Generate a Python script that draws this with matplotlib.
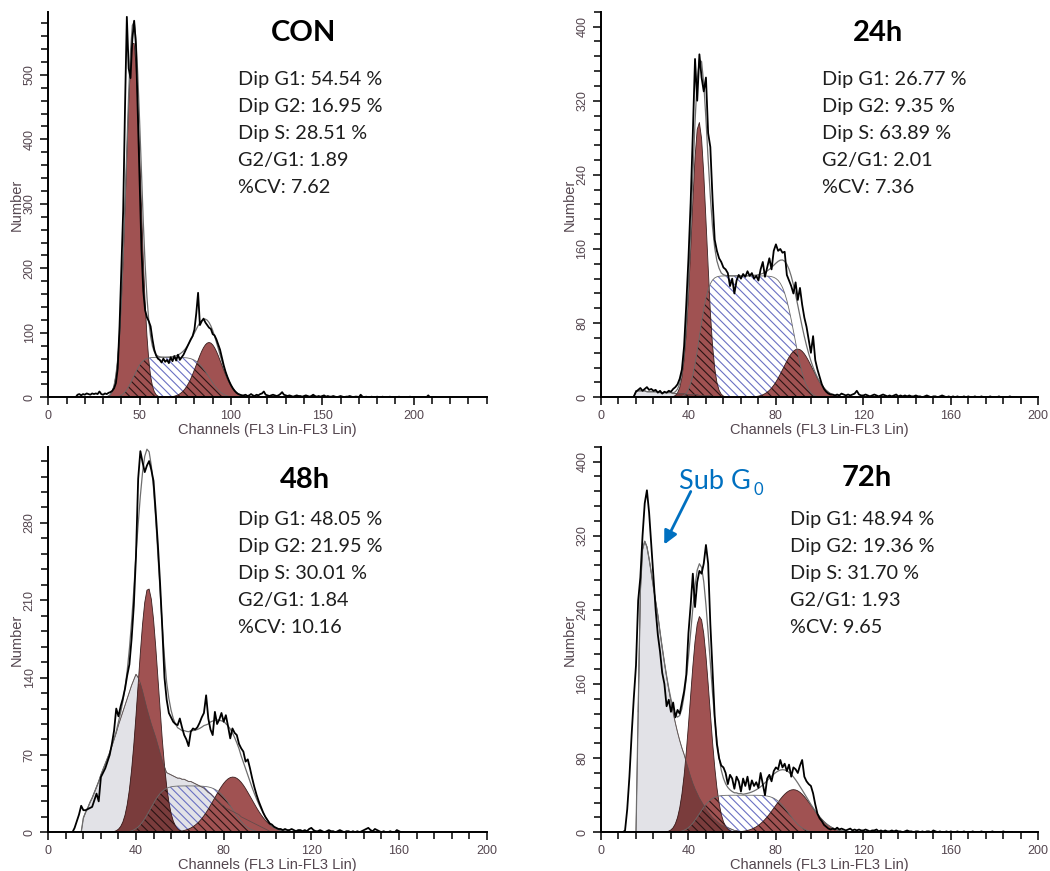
import math
import numpy as np
import matplotlib
matplotlib.use("Agg")
import matplotlib.pyplot as plt
from matplotlib.ticker import MultipleLocator

# ---- histogram counts, one value per channel starting at *_start ----
con_start = 15
con_counts = [0, 4, 5, 3, 5, 4, 6, 5, 4, 6, 5, 6, 5, 9, 5, 4, 6, 5, 7, 8,
              10, 14, 22, 45, 110, 200, 290, 450, 590, 510, 495, 555, 584, 545, 440, 330,
              230, 165, 135, 124, 118, 110, 90, 74, 65, 60,
              58, 54, 60, 55, 58, 53, 62, 56, 64, 57, 66, 58, 62,
              66, 72, 78, 84, 90, 95, 105, 130, 162,
              112, 118, 122, 116, 112, 108, 106, 98, 96, 90,
              82, 74, 62, 50, 40, 32, 25, 19, 14, 10, 7, 5, 4, 3,
              3, 4, 2, 3, 5, 3, 2, 4, 3, 5, 6, 9, 4, 3, 2, 3, 4, 3, 2, 3, 5, 8, 4, 3,
              2, 3, 2, 1, 2, 3, 2, 2, 1, 2, 3, 2, 1, 2, 4, 2, 1, 2, 1, 2, 3, 1, 2, 1, 1, 2, 1, 0, 1, 2,
              1, 0, 1, 1, 2, 1, 0, 1, 1, 0, 4, 1, 0, 1, 0, 0, 1, 0, 0, 1, 0, 0, 1, 0, 0, 0,
              1, 0, 0, 0, 0, 1, 0, 0, 0, 0, 0, 1, 0, 0, 0, 0, 0, 0, 0, 0, 0, 3, 0, 0, 0, 0]

h24_start = 15
h24_counts = [1, 6, 8, 10, 7, 9, 11, 8, 9, 7, 8, 5, 7, 4, 6, 5, 7, 6, 9, 11,
              14, 20, 30, 55, 100, 150, 210, 285, 365, 320, 370, 345, 330, 345, 285, 270,
              215, 170, 158, 150, 146, 140, 138, 134, 120, 128, 112, 126, 132, 128, 133,
              130, 136, 131, 134, 128, 131, 126, 138, 146, 130, 140, 150, 138, 158, 165,
              158, 160, 156, 157, 132, 126, 120, 112, 124, 105, 118, 100, 86, 76, 62, 48,
              66, 40, 30, 22, 14, 9, 6, 4, 3,
              3, 2, 3, 2, 4, 3, 2, 3, 2, 3, 4, 7, 3, 2, 2, 3, 2, 1, 2, 3, 2, 1, 2, 3, 2,
              1, 2, 1, 2, 3, 1, 2, 1, 2, 1, 2, 1, 1, 2, 1, 1, 0, 1, 2, 1, 0, 1, 1, 0, 1,
              2, 1, 0, 1, 0, 1, 0, 1, 0, 0, 1, 0, 1, 0, 0, 1, 0, 0, 1, 0, 0, 0, 1, 0, 0,
              0, 1, 0, 0, 0, 0, 1, 0, 0, 0]

h48_start = 11
h48_counts = [0, 4, 10, 16, 24, 20, 20, 21, 22, 23, 29, 35, 28, 50, 54, 58, 64, 70, 80,
              92, 112, 105, 114, 121, 130, 142, 152, 175, 205, 250, 320, 345, 335, 326,
              332, 336, 328, 318, 290, 260, 225, 185, 140, 120, 108, 104, 100, 98, 97,
              103, 95, 88, 84, 78, 91, 94, 93, 95, 99, 104, 108, 124, 103, 93, 88, 109,
              98, 102, 108, 100, 106, 96, 85, 94, 90, 88, 80, 76, 73, 64, 66, 58, 49, 41,
              34, 28, 23, 18, 14, 11, 8, 7, 5, 4, 3,
              3, 2, 3, 2, 2, 3, 2, 1, 2, 2, 1, 2, 1, 3, 4, 2, 1, 1, 2, 1, 0, 1, 2, 1, 1,
              0, 1, 2, 1, 0, 1, 1, 0, 1, 0, 1, 0, 1, 2, 3, 4, 2, 1, 3, 2, 1, 0, 1, 0, 0,
              1, 0, 0, 2, 1, 0, 0]

h72_start = 10
h72_counts = [0, 2, 25, 60, 105, 145, 180, 250, 275, 320, 355, 369, 345, 310, 275, 240,
              213, 195, 172, 160, 136, 143, 130, 140, 124, 132, 128, 140, 152, 170, 215,
              245, 279, 243, 270, 282, 279, 290, 310, 290, 225, 175, 125, 95, 80, 72, 70,
              64, 52, 62, 58, 47, 60, 55, 44, 58, 50, 60, 46, 56, 50, 54, 48, 64, 52, 40,
              58, 62, 55, 66, 70, 68, 78, 70, 74, 66, 73, 60, 70, 68, 64, 72, 78, 60, 55,
              52, 50, 42, 30, 20, 15, 12, 8, 6, 4, 3,
              4, 3, 5, 3, 4, 3, 2, 3, 4, 2, 3, 2, 3, 2, 2, 3, 2, 1, 2, 2, 3, 1, 2, 1, 2,
              1, 1, 2, 1, 2, 1, 1, 0, 1, 2, 1, 1, 0, 1, 1, 0, 1, 0, 1, 1, 0, 2, 1, 0, 1,
              0, 0, 1, 0, 1, 0, 0, 1, 0, 0, 1, 0, 0, 0, 1, 0, 0, 0, 1, 0, 0, 0, 0, 1, 0,
              0, 0, 0, 1, 0, 0, 0, 0]

# ---- debris (sub G0) component, one value per channel ----
h24_debris_start = 16
h24_debris = [7, 7, 7, 7, 7, 6, 6, 6, 6, 6, 6, 5, 5, 5, 5, 5, 5, 4, 4, 4, 4, 4, 4,
              3, 3, 3, 3, 3, 3, 2, 2, 2, 2, 2, 2, 1, 1, 1, 1, 0]

h48_debris_start = 15
h48_debris = [0, 13, 18, 22, 27, 31, 36, 41, 46, 52, 57, 62, 67, 72, 78, 84, 90, 97,
              103, 109, 115, 121, 127, 133, 138, 143, 140, 135, 128, 120, 112, 105, 98,
              92, 86, 79, 72, 65, 59, 54, 53, 52, 51, 50, 49, 49, 48, 48, 47, 46, 46, 45,
              44, 43, 42, 41, 40, 38, 36, 35, 33, 31, 29, 27, 25, 24, 22, 21, 20, 19, 18,
              17, 16, 14, 13, 12, 11, 10, 9, 8, 7, 6, 5, 4, 3, 2, 1, 0]

h72_debris_start = 16
h72_debris = [0, 130, 260, 305, 314, 308, 295, 280, 264, 249, 234, 216, 199, 183, 168,
              154, 141, 129, 118, 108, 99, 91, 84, 76, 68, 60, 53, 47, 42, 37, 33, 29, 25,
              22, 19, 16, 14, 12, 10, 8, 7, 6, 5, 4, 3, 2, 2, 1, 1, 0]

# ---- fitted peaks: (mean channel, height, sd) and S phase (height, left, left sd, right, right sd)
con_g1, con_g2, con_s = (46.5, 553, 4.0), (88.0, 85, 6.8), (62, 46.5, 4.0, 88.0, 5.5)
h24_g1, h24_g2, h24_s = (44.8, 297, 3.4), (90.0, 52, 6.6), (131, 45.0, 3.3, 88.5, 4.2)
h48_g1, h48_g2, h48_s = (45.6, 221, 4.6), (84.2, 50, 8.5), (42, 46.5, 4.6, 84.0, 5.5)
h72_g1, h72_g2, h72_s = (45.2, 233, 4.4), (88.0, 46, 8.4), (40, 45.0, 4.4, 86.0, 5.0)

titles = ["CON", "24h", "48h", "72h"]
stats = [
    ["Dip G1: 54.54 %", "Dip G2: 16.95 %", "Dip S: 28.51 %", "G2/G1: 1.89", "%CV: 7.62"],
    ["Dip G1: 26.77 %", "Dip G2: 9.35 %", "Dip S: 63.89 %", "G2/G1: 2.01", "%CV: 7.36"],
    ["Dip G1: 48.05 %", "Dip G2: 21.95 %", "Dip S: 30.01 %", "G2/G1: 1.84", "%CV: 10.16"],
    ["Dip G1: 48.94 %", "Dip G2: 19.36 %", "Dip S: 31.70 %", "G2/G1: 1.93", "%CV: 9.65"],
]

RED = '#a05252'
DARK_RED = '#7a3c3c'
GREY = '#e2e2e7'
BLUE_HATCH = '#6a70c2'
LABEL_COL = '#54464f'

plt.rcParams['hatch.linewidth'] = 0.8

W, H = 1050, 871


def gauss(x, mean, height, sd):
    return height * np.exp(-0.5 * ((x - mean) / sd) ** 2)


phi = np.vectorize(lambda z: 0.5 * (1 + math.erf(z / math.sqrt(2))))


def s_phase(x, height, left, left_sd, right, right_sd):
    return height * phi((x - left) / left_sd) * (1 - phi((x - right) / right_sd))


def padded(values, start, n):
    out = np.zeros(n)
    vals = np.asarray(values, dtype=float)[:max(0, n - start)]
    out[start:start + len(vals)] = vals
    return out


def draw_panel(ax, counts, start, g1p, g2p, sp, debris, debris_start, xmax, ymax, xmaj, ymaj):
    x = np.arange(0, xmax + 1)
    n = len(x)
    g1 = gauss(x, *g1p)
    g2 = gauss(x, *g2p)
    s = s_phase(x, *sp)
    deb = padded(debris, debris_start, n) if debris else np.zeros(n)
    fit = g1 + g2 + s + deb

    if debris:
        ax.fill_between(x, 0, deb, facecolor=GREY, edgecolor='none', zorder=1)
        m = deb > 0
        ax.plot(x[m], deb[m], color='#8c8c8c', lw=0.7, zorder=1.5)
    ax.fill_between(x, 0, s, facecolor='none', edgecolor=BLUE_HATCH, hatch='\\\\\\\\', lw=0, zorder=2)
    for g in (g1, g2):
        ax.fill_between(x, 0, g, facecolor=RED, edgecolor='none', zorder=3)
    if debris:
        ax.fill_between(x, 0, np.minimum(deb, g1), facecolor=DARK_RED, edgecolor='none', zorder=4)
    for g in (g1, g2):
        ax.fill_between(x, 0, np.minimum(s, g), facecolor='none', edgecolor='#2a1414',
                        hatch='\\\\\\\\', lw=0, zorder=5)
        ax.plot(x, g, color='#3a1e1e', lw=0.6, zorder=5.5)
    ax.plot(x, s, color='#6a6a6a', lw=0.6, zorder=5.5)
    if debris:
        ax.plot(x, deb, color='#5a4a4a', lw=0.5, zorder=5.5)
    ax.plot(x, fit, color='#6e6e6e', lw=0.9, zorder=6)

    cx = np.arange(start, start + len(counts))
    ax.plot(cx, counts, color='black', lw=1.3, zorder=7)

    ax.set_xlim(0, xmax)
    ax.set_ylim(0, ymax)
    ax.xaxis.set_major_locator(MultipleLocator(xmaj))
    ax.xaxis.set_minor_locator(MultipleLocator(xmaj / 5))
    ax.yaxis.set_major_locator(MultipleLocator(ymaj))
    ax.yaxis.set_minor_locator(MultipleLocator(ymaj / 5))
    for side in ('top', 'right'):
        ax.spines[side].set_visible(False)
    for side in ('left', 'bottom'):
        ax.spines[side].set_linewidth(1.4)
        ax.spines[side].set_zorder(8)
    ax.tick_params(which='major', length=6, width=1.1, direction='out', colors='black',
                   labelcolor=LABEL_COL, labelsize=9, pad=3)
    ax.tick_params(which='minor', length=5, width=1.1, direction='out', colors='black')
    ax.tick_params(axis='y', labelrotation=90)
    for lab in ax.get_yticklabels():
        lab.set_va('center')
    ax.set_xlabel('Channels (FL3 Lin-FL3 Lin)', fontsize=10.5, color=LABEL_COL, labelpad=1)
    ax.set_ylabel('Number', fontsize=10.5, color=LABEL_COL, labelpad=0)


plt.rcParams['font.family'] = ['Liberation Sans', 'DejaVu Sans']

fig = plt.figure(figsize=(W / 100, H / 100), dpi=100)

boxes = [(48.3, 11.7, 486.7, 397.3), (601, 11.7, 1038.3, 397.3),
         (48.3, 446.7, 486.7, 832.3), (601, 446.7, 1038.3, 832.3)]
axes = []
for (l, t, r, b) in boxes:
    axes.append(fig.add_axes([l / W, 1 - b / H, (r - l) / W, (b - t) / H]))

draw_panel(axes[0], con_counts, con_start, con_g1, con_g2, con_s, None, 0, 240, 598, 50, 100)
draw_panel(axes[1], h24_counts, h24_start, h24_g1, h24_g2, h24_s, h24_debris, h24_debris_start,
           200, 416, 40, 80)
draw_panel(axes[2], h48_counts, h48_start, h48_g1, h48_g2, h48_s, h48_debris, h48_debris_start,
           200, 349, 40, 70)
draw_panel(axes[3], h72_counts, h72_start, h72_g1, h72_g2, h72_s, h72_debris, h72_debris_start,
           200, 416, 40, 80)


def ftext(px, py, s, **kw):
    fig.text(px / W, 1 - py / H, s, **kw)


title_pos = [(304, 33), (878, 33), (305, 480), (867, 478)]
stats_pos = [(238, 80), (822, 80), (238, 520), (790, 520)]
for title, (tx, ty) in zip(titles, title_pos):
    ftext(tx, ty, title, family='Lato', weight='bold', fontsize=21, ha='center', va='center')
for lines, (sx, sy) in zip(stats, stats_pos):
    for i, line in enumerate(lines):
        ftext(sx, sy + i * 26.9, line, family='Lato', fontsize=14.3, ha='left', va='center',
              color='#1e1e1e')

# Sub G0 marker on the 72h panel
ftext(751, 481, 'Sub G', family='Lato', fontsize=19.5, ha='right', va='center', color='#0070C0')
ftext(753, 490, '0', family='Lato', fontsize=12, ha='left', va='center', color='#0070C0')
fig.add_artist(matplotlib.patches.FancyArrowPatch(
    (692 / W, 1 - 489 / H), (663 / W, 1 - 547 / H), transform=fig.transFigure,
    arrowstyle='-|>', mutation_scale=20, color='#0070C0', lw=2))

fig.savefig('out.png', dpi=100)
